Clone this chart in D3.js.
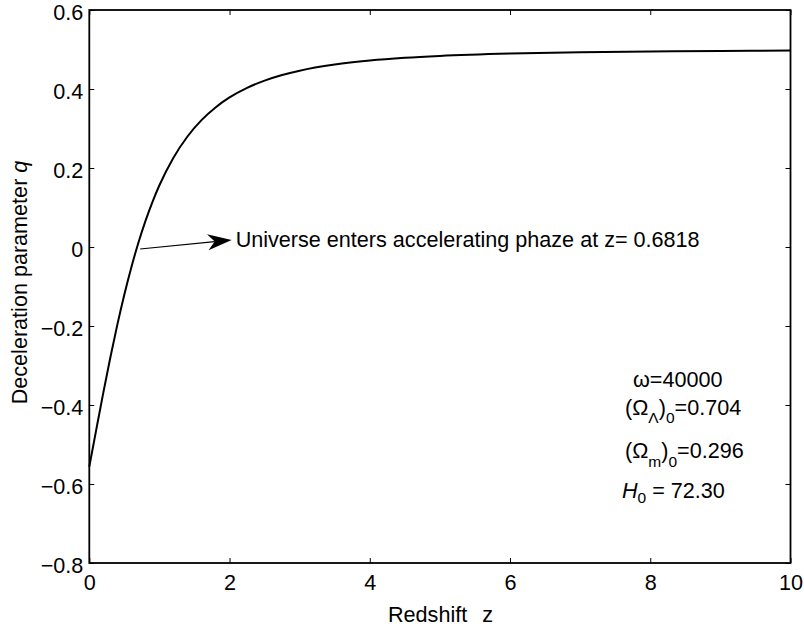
<!DOCTYPE html>
<html>
<head>
<meta charset="utf-8">
<script src="https://cdn.jsdelivr.net/npm/d3@7"></script>
<style>
  html, body { margin: 0; padding: 0; background: #fff; }
  svg text { font-family: "Liberation Sans", Arial, Helvetica, sans-serif; fill: #000; }
</style>
</head>
<body>
<svg id="chart" width="804" height="630"></svg>
<script>
// Redshift samples and the deceleration parameter q at each one
const redshift = [0, 0.1, 0.2, 0.3, 0.4, 0.5, 0.6, 0.6818, 0.7, 0.8, 0.9, 1.0, 1.2, 1.4, 1.6, 1.8,
                  2.0, 2.25, 2.5, 2.75, 3.0, 3.5, 4.0, 4.5, 5.0, 6.0, 7.0, 8.0, 9.0, 10.0];
const qValues  = [-0.556, -0.4618, -0.3688, -0.2797, -0.1965, -0.1201, -0.0510, 0.0, 0.0107, 0.0655,
                  0.1138, 0.1563, 0.2261, 0.2798, 0.3212, 0.3534, 0.3786, 0.4028, 0.4212, 0.4353,
                  0.4463, 0.4618, 0.4720, 0.4789, 0.4837, 0.4897, 0.4931, 0.4951, 0.4964, 0.4973];

const xTicks = [0, 2, 4, 6, 8, 10];
const yTicks = [-0.8, -0.6, -0.4, -0.2, 0, 0.2, 0.4, 0.6];
const transitionZ = 0.6818;

const svg = d3.select("#chart");
const plotLeft = 89.3, plotRight = 790.5, plotTop = 10, plotBottom = 563;

const x = d3.scaleLinear().domain([0, 10]).range([plotLeft, plotRight]);
const y = d3.scaleLinear().domain([-0.8, 0.6]).range([plotBottom, plotTop]);

const fs = 21.6;
const tickFmt = d => d === 0 ? "0" : d3.format(".1f")(d).replace("-", "\u2212");

// Axes with inward ticks on all four sides
const axB = d3.axisBottom(x).tickValues(xTicks).tickSizeInner(-5).tickSizeOuter(0).tickPadding(10)
  .tickFormat(d => String(d));
const axT = d3.axisTop(x).tickValues(xTicks).tickSizeInner(-5).tickSizeOuter(0).tickFormat("");
const axL = d3.axisLeft(y).tickValues(yTicks).tickSizeInner(-5).tickSizeOuter(0).tickPadding(10)
  .tickFormat(tickFmt);
const axR = d3.axisRight(y).tickValues(yTicks).tickSizeInner(-5).tickSizeOuter(0).tickFormat("");

function styleAxis(g) {
  g.select(".domain").remove();
  g.selectAll(".tick line").attr("stroke", "#000").attr("stroke-width", 1);
  g.selectAll(".tick text").attr("font-size", fs).attr("fill", "#000")
    .attr("font-family", "Liberation Sans, Arial, sans-serif");
}

svg.append("g").attr("transform", `translate(0,${plotBottom})`).call(axB).call(styleAxis)
  .selectAll(".tick text").attr("dy", "0.71em").attr("y", 12);
svg.append("g").attr("transform", `translate(0,${plotTop})`).call(axT).call(styleAxis);
svg.append("g").attr("transform", `translate(${plotLeft},0)`).call(axL).call(styleAxis)
  .selectAll(".tick text").attr("x", -6).attr("dy", "0.46em");
svg.append("g").attr("transform", `translate(${plotRight},0)`).call(axR).call(styleAxis);

// Plot frame
svg.append("rect")
  .attr("x", plotLeft).attr("y", plotTop)
  .attr("width", plotRight - plotLeft).attr("height", plotBottom - plotTop)
  .attr("fill", "none").attr("stroke", "#000").attr("stroke-width", 1.8);

// q(z) curve
const pts = redshift.map((z, i) => [z, qValues[i]]);
svg.append("path")
  .datum(pts)
  .attr("fill", "none")
  .attr("stroke", "#000")
  .attr("stroke-width", 2)
  .attr("d", d3.line().x(d => x(d[0])).y(d => y(d[1])).curve(d3.curveMonotoneX));

// Arrow pointing out the transition redshift
const tail = [x(transitionZ) + 3, y(0) + 2];
const tip = [x(2.03), y(0.018)];
const ang = Math.atan2(tip[1] - tail[1], tip[0] - tail[0]);
const headLen = 24, headHalf = 8, notch = 17;
const rot = (dx, dy) => [tip[0] + dx * Math.cos(ang) - dy * Math.sin(ang),
                         tip[1] + dx * Math.sin(ang) + dy * Math.cos(ang)];
svg.append("line")
  .attr("x1", tail[0]).attr("y1", tail[1])
  .attr("x2", rot(-notch, 0)[0]).attr("y2", rot(-notch, 0)[1])
  .attr("stroke", "#000").attr("stroke-width", 1.2);
svg.append("path")
  .attr("d", d3.line()([tip, rot(-headLen, -headHalf), rot(-notch, 0), rot(-headLen, headHalf)]) + "Z")
  .attr("fill", "#000");

svg.append("text")
  .attr("x", tip[0] + 4).attr("y", y(0))
  .attr("font-size", fs)
  .text(`Universe enters accelerating phaze at z= ${transitionZ}`);

// Model parameters
const sub = 15.5;
const p1 = svg.append("text").attr("x", 633).attr("y", 387).attr("font-size", fs);
p1.append("tspan").text("\u03C9=40000");

const p2 = svg.append("text").attr("x", 625).attr("y", 415).attr("font-size", fs);
p2.append("tspan").text("(\u03A9");
p2.append("tspan").attr("font-size", sub).attr("dy", 8).text("\u039B");
p2.append("tspan").attr("dy", -8).text(")");
p2.append("tspan").attr("font-size", sub).attr("dy", 8).text("0");
p2.append("tspan").attr("dy", -8).text("=0.704");

const p3 = svg.append("text").attr("x", 625).attr("y", 458).attr("font-size", fs);
p3.append("tspan").text("(\u03A9");
p3.append("tspan").attr("font-size", sub).attr("dy", 9).text("m");
p3.append("tspan").attr("dy", -9).text(")");
p3.append("tspan").attr("font-size", sub).attr("dy", 9).text("0");
p3.append("tspan").attr("dy", -9).text("=0.296");

const p4 = svg.append("text").attr("x", 622).attr("y", 498).attr("font-size", fs);
p4.append("tspan").attr("font-style", "italic").text("H");
p4.append("tspan").attr("font-size", sub).attr("dy", 5).text("0");
p4.append("tspan").attr("dy", -5).text(" = 72.30");

// Axis titles
const xl = svg.append("text").attr("x", 388).attr("y", 622).attr("font-size", fs);
xl.append("tspan").text("Redshift");
xl.append("tspan").attr("dx", 15).text("z");

const yl = svg.append("text")
  .attr("transform", "translate(27,282.5) rotate(-90)")
  .attr("text-anchor", "middle")
  .attr("font-size", fs);
yl.append("tspan").text("Deceleration parameter ");
yl.append("tspan").attr("font-style", "italic").text("q");
</script>
</body>
</html>
